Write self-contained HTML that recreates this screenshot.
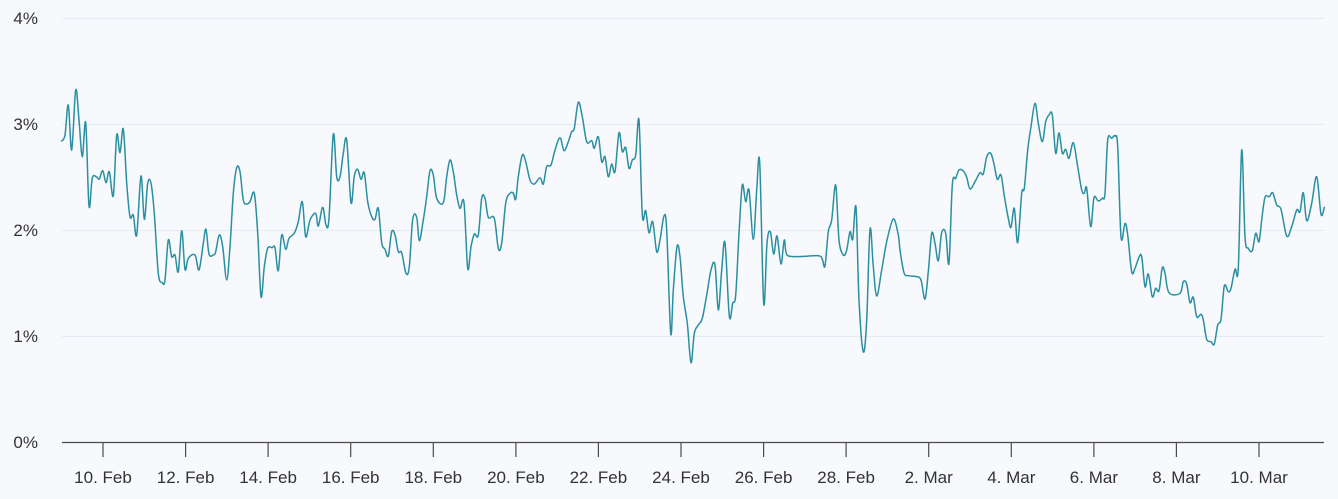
<!DOCTYPE html>
<html><head><meta charset="utf-8"><style>
html,body{margin:0;padding:0;background:#f7f9fc;}
svg{display:block;}
text{font-family:"Liberation Sans",sans-serif;font-size:17px;fill:#333;}
</style></head><body>
<svg width="1338" height="499" viewBox="0 0 1338 499" xmlns="http://www.w3.org/2000/svg">
<rect width="1338" height="499" fill="#f7f9fc"/>
<g stroke="#e3ecf6" stroke-width="1">
<line x1="62" y1="18.5" x2="1324" y2="18.5"/>
<line x1="62" y1="124.5" x2="1324" y2="124.5"/>
<line x1="62" y1="230.5" x2="1324" y2="230.5"/>
<line x1="62" y1="336.5" x2="1324" y2="336.5"/>
</g>
<g text-anchor="end">
<text x="38" y="24">4%</text>
<text x="38" y="130">3%</text>
<text x="38" y="236">2%</text>
<text x="38" y="342">1%</text>
<text x="38" y="448">0%</text>
</g>
<polyline id="ln" fill="none" stroke="#2a8fa1" stroke-width="1.5" stroke-linejoin="round" stroke-linecap="round" points="
61.7,141 65,135 68.3,105 71.7,150 75.7,90 79,120 82.3,156.7 85.7,122.7 89,206 92.3,178 96.7,177 99.3,179 102.7,170.7 106,182.7 109.3,171.7 113.3,195.7 116.7,135 120,152.7 123.3,129 126.7,183 130,216.7 133.3,215 136.7,235 141,176 144.3,219.3 147.7,183.3 151,183.3 154.3,213.3 158.3,273.3 162.3,282.7 165,280 168.3,240 171.7,256.7 175,255 178.3,271.7 181.7,230.7 185,269.3 188.3,258.3 195,255 199,270 203.3,243.3 206,229.3 209,254 213.3,255 215.7,251.7 219.3,235 222.7,246.7 226.7,280 230,246.7 233.3,193.3 236.7,167.7 240,171.7 243.3,200 246.7,204 250,201.7 254.3,193.3 257.7,233.3 261,296.7 264.3,266.7 267.7,248.3 272,247.7 275,247.7 278.3,270.7 281.7,235 285.7,249.3 289,238.3 294.3,233.3 298.3,221.7 302.3,201.7 305.7,236.7 310,220 315.7,213.3 318.3,226 322.7,207.3 326,225 329,218.3 333.3,134.3 336.7,176.7 340,176.7 343.3,153.3 346.7,140 351,202.7 354.3,176 357.7,169.3 361,179.3 364.3,172.7 367.7,201.7 371.7,216.7 375,219.3 378.3,208.3 381.7,242.7 385,249.3 388.3,256 391.7,231.7 395,235 398.3,251.7 401.7,252.7 406,273.3 409.3,266.7 412.7,219.3 416.7,217.3 419.3,240.7 423.3,220 426.7,196.7 430,170.7 433.3,175 436.7,198.3 443.3,202.7 446.7,176.7 450,160 453.3,171.7 456.7,195 460,208.3 464,202.7 467.7,268.3 471,246.7 474.3,234 478.3,235 481.7,198.3 485,198.3 488.3,217.3 494.3,218.3 498.3,248.3 501.7,243.3 505.7,203.3 510,193.3 513.3,193.3 515.7,199.3 518.3,176.7 522.3,155 525.7,161.7 530,180 534.3,184 540,177.7 543.3,184 546.7,166.7 551,165 555,150 560,137.7 564,150.7 568.3,141.7 571.7,131.7 574.3,128.3 578.3,102.3 582.3,116.7 586.7,141.7 591.7,140.7 594.3,148.3 598.3,136.7 601.7,161.7 605,156.7 608.3,176.7 611.7,164 615,171.7 619,132.7 622.3,151.7 625.7,147.7 629,168.3 632.3,160 635.7,155 639,120 642.3,215 645.7,210.7 649,232.7 652.7,221.7 656.7,251.7 660,240 664,216 666.7,230 670.7,333.3 673.3,290 677,246.7 680,256.7 683.3,296.7 687.3,323.3 691,362.7 694.3,333.3 698.3,325 702.3,318.3 706.7,295 711,270 715,265 718.3,310 721.7,270 725,242.7 729.3,316 732.7,303.3 735.7,295 739,233.3 742.3,185 745.7,201.7 749,190 753.3,239.3 756.7,190 759.7,162.7 763.7,303.3 767,243.3 770.3,231.7 773.7,254 777,236 781,264 784.3,240 787.7,255.7 818.3,255.7 822.3,259.3 825,266 828.3,231.7 831.7,220 835.7,185 839,240 843.3,255 846.7,250 850,231.7 852.7,239.3 856,207.3 859,300 863.3,351.7 866.7,320 870,229.3 873.3,266.7 876.7,296 881.7,270 886.7,241.7 893.3,219 898.3,235 900,250 904,272.7 908.3,275.7 916.7,276.7 921,280 925,299 928.3,271.7 931.7,233.3 935,243.3 938.3,260.7 941.7,232.7 945.7,233.3 949,263.3 952.3,185 955.7,178.3 959,170 963.3,171 966.7,177.3 970,189 975,181.7 980,172.7 983.3,174 986.7,156.7 990.7,153.3 994,164 997.3,179.3 1001,175 1004.3,196 1008.3,218.3 1011,227.3 1014.3,208.3 1017.7,242.7 1021.7,193.3 1024.3,188.3 1027.7,150 1031,126.7 1035,103.3 1038.3,123.3 1042.3,141.7 1045.7,121.7 1049,115 1052.3,115 1055.7,153.3 1059,132.7 1062.3,153.3 1065.7,149.3 1069,158.3 1073.3,142.7 1077.7,166.7 1081.7,190 1084.3,193.3 1086.7,188.3 1090.7,226.7 1094,197.7 1098.3,201 1102.3,198.3 1105,193.3 1107.7,140 1111.7,138.3 1115,136 1117.7,146.7 1121,236.7 1125,223.3 1127.7,235 1131.7,271.7 1135,268.3 1139,257.3 1141.7,256.7 1145,286.7 1148.3,274 1152.3,296.7 1155.7,288.3 1159,290.7 1162.3,267.7 1165,273.3 1169,292.7 1180,293.3 1183.3,281.7 1186.7,284 1190,302.7 1193.3,297.3 1196.7,316.7 1201,314.3 1203.3,320 1206.7,339.3 1211,341.7 1214.3,344 1217.7,325 1221,319.3 1224.3,286 1228.3,291.7 1231,288.3 1235,269.3 1238.3,268.3 1241.7,150 1245,236.7 1248.3,248.3 1252.3,250.7 1255.7,233.3 1259,241.7 1261.7,220 1265,197.3 1269.3,196.7 1272.7,192.7 1276.7,205 1281,209.3 1286.7,236 1291.7,226.7 1296.7,210 1300,211.7 1303.3,192.7 1306.7,220.7 1311.7,203.3 1316.7,176.7 1321,214.3 1324.3,207.3"/>
<path id="sp" fill="none" stroke="#2a8fa1" stroke-width="1.5" stroke-linejoin="round" stroke-linecap="round" d=""/>
<line x1="62" y1="442.5" x2="1324" y2="442.5" stroke="#4a4a4a" stroke-width="1.2"/>
<g stroke="#4a4a4a" stroke-width="1.2">
<line x1="103" y1="442" x2="103" y2="457"/>
<line x1="185.6" y1="442" x2="185.6" y2="457"/>
<line x1="268.1" y1="442" x2="268.1" y2="457"/>
<line x1="350.7" y1="442" x2="350.7" y2="457"/>
<line x1="433.3" y1="442" x2="433.3" y2="457"/>
<line x1="515.9" y1="442" x2="515.9" y2="457"/>
<line x1="598.4" y1="442" x2="598.4" y2="457"/>
<line x1="681" y1="442" x2="681" y2="457"/>
<line x1="763.6" y1="442" x2="763.6" y2="457"/>
<line x1="846.1" y1="442" x2="846.1" y2="457"/>
<line x1="928.7" y1="442" x2="928.7" y2="457"/>
<line x1="1011.3" y1="442" x2="1011.3" y2="457"/>
<line x1="1093.9" y1="442" x2="1093.9" y2="457"/>
<line x1="1176.4" y1="442" x2="1176.4" y2="457"/>
<line x1="1259" y1="442" x2="1259" y2="457"/>
</g>
<g text-anchor="middle">
<text x="103" y="483">10. Feb</text>
<text x="185.6" y="483">12. Feb</text>
<text x="268.1" y="483">14. Feb</text>
<text x="350.7" y="483">16. Feb</text>
<text x="433.3" y="483">18. Feb</text>
<text x="515.9" y="483">20. Feb</text>
<text x="598.4" y="483">22. Feb</text>
<text x="681" y="483">24. Feb</text>
<text x="763.6" y="483">26. Feb</text>
<text x="846.1" y="483">28. Feb</text>
<text x="928.7" y="483">2. Mar</text>
<text x="1011.3" y="483">4. Mar</text>
<text x="1093.9" y="483">6. Mar</text>
<text x="1176.4" y="483">8. Mar</text>
<text x="1259" y="483">10. Mar</text>
</g>
</svg>
<script>
(function(){
  var pl=document.getElementById('ln');
  var raw=pl.getAttribute('points').trim().split(/\s+/);
  var p=raw.map(function(s){var a=s.split(',');return [parseFloat(a[0]),parseFloat(a[1])];});
  var d='M'+p[0][0]+','+p[0][1];
  for(var i=0;i<p.length-1;i++){
    var p0=p[i>0?i-1:i],p1=p[i],p2=p[i+1],p3=p[i+2<p.length?i+2:i+1];
    var c1x=p1[0]+(p2[0]-p0[0])/6,c1y=p1[1]+(p2[1]-p0[1])/6;
    var c2x=p2[0]-(p3[0]-p1[0])/6,c2y=p2[1]-(p3[1]-p1[1])/6;
    // keep control points within segment x-range to avoid loops
    c1x=Math.min(Math.max(c1x,p1[0]),p2[0]);c2x=Math.min(Math.max(c2x,p1[0]),p2[0]);
    d+=' C'+c1x.toFixed(2)+','+c1y.toFixed(2)+' '+c2x.toFixed(2)+','+c2y.toFixed(2)+' '+p2[0]+','+p2[1];
  }
  document.getElementById('sp').setAttribute('d',d);
  pl.style.display='none';
})();
</script>
</body></html>
